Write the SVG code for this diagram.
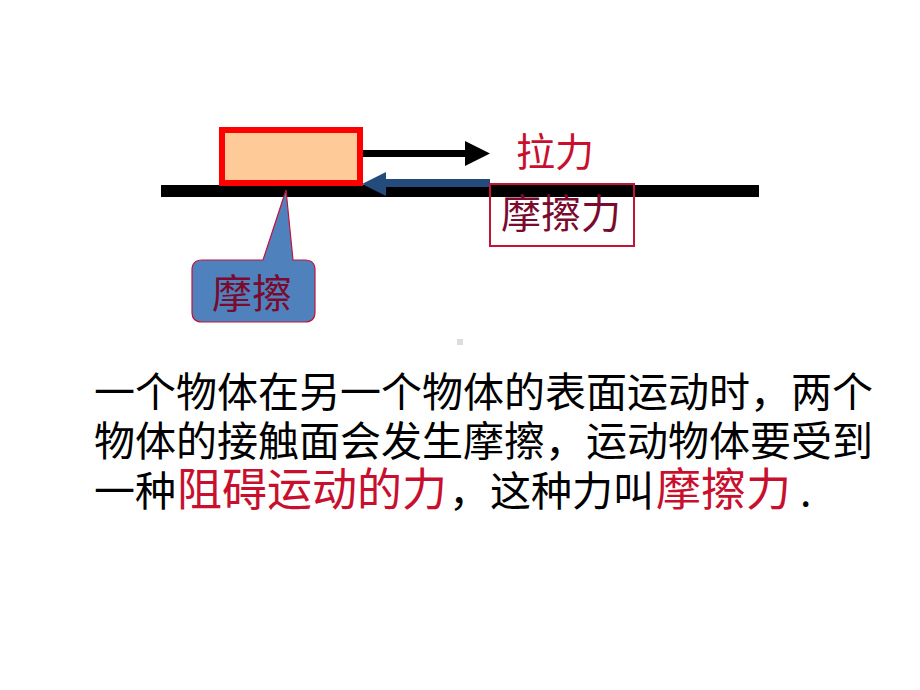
<svg xmlns="http://www.w3.org/2000/svg" width="920" height="690" viewBox="0 0 920 690">
<style>
.cjk{font-family:"Noto Sans CJK SC","Noto Sans",sans-serif;}
.blk{fill:#000;font-size:41px;}
.red{fill:#C8102E;}
.big{font-size:45px;}
.maroon{fill:#7A0A2E;}
</style>
<rect width="920" height="690" fill="#fff"/>
<g id="ground"><rect x="161" y="185" width="598" height="12" fill="#000"/></g>
<g id="block"><rect x="222" y="130" width="138" height="53" fill="#FDCA98" stroke="#FF0000" stroke-width="6"/></g>
<g id="connectors">
  <line x1="363" y1="153.5" x2="467" y2="153.5" stroke="#000" stroke-width="7"/>
  <polygon points="465,141 490,153.5 465,166" fill="#000"/>
  <line x1="383" y1="183" x2="490" y2="183" stroke="#234B7C" stroke-width="8"/>
  <polygon points="386,172 362,184 386,196" fill="#234B7C"/>
</g>
<g id="label-pull"><text class="cjk red" x="516" y="166" font-size="39">拉力</text></g>
<g id="label-friction-force">
  <rect x="490" y="184" width="144" height="62" fill="none" stroke="#C0143C" stroke-width="2"/>
  <text class="cjk maroon" x="501" y="228" font-size="40">摩擦力</text>
</g>
<g id="callout">
  <path d="M202,260 H263 L286,190 L293,260 H305 Q315,260 315,270 V312 Q315,322 305,322 H202 Q192,322 192,312 V270 Q192,260 202,260 Z" fill="#4F81BD" stroke="#C0143C" stroke-width="1.2"/>
  <text class="cjk maroon" x="212" y="308" font-size="40">摩擦</text>
</g>
<rect x="457" y="339" width="6" height="6" fill="#DDDDDD"/>
<g id="paragraph" class="cjk">
  <text class="blk" x="94" y="407">一个物体在另一个物体的表面运动时，两个</text>
  <text class="blk" x="94" y="456">物体的接触面会发生摩擦，运动物体要受到</text>
  <text class="blk" y="506"><tspan x="94">一种</tspan><tspan x="177" class="red big">阻碍运动的力</tspan><tspan x="449">，这种力叫</tspan><tspan x="656" class="red big">摩擦力</tspan><tspan x="800">.</tspan></text>
</g>
</svg>
